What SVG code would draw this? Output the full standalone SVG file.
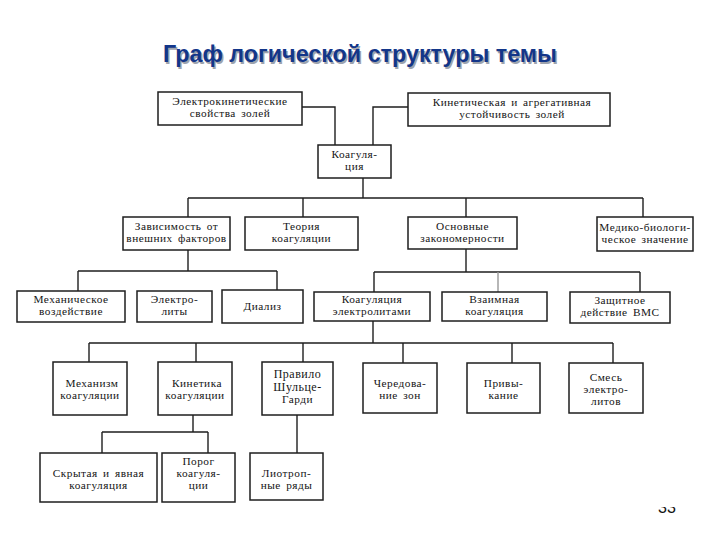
<svg xmlns="http://www.w3.org/2000/svg" width="720" height="540" viewBox="0 0 720 540">
<defs>
<style>
.b{fill:#fff;stroke:#1e1e1e;stroke-width:1.5}
.t{font-family:"Liberation Serif","DejaVu Serif",serif;font-size:11.3px;fill:#151515;text-anchor:middle;letter-spacing:0.5px;word-spacing:2px}
.c{fill:none;stroke:#1e1e1e;stroke-width:1.4}
.ttl{font-family:"Liberation Sans",Arial,sans-serif;font-weight:bold;font-size:23px;text-anchor:middle}
</style>
<clipPath id="pg"><rect x="640" y="507" width="60" height="20"/></clipPath>
</defs>
<rect width="720" height="540" fill="#fff"/>
<g id="title">
<text class="ttl" x="361.5" y="63.5" fill="#9ea3ad" textLength="394" lengthAdjust="spacingAndGlyphs">Граф логической структуры темы</text>
<text class="ttl" x="360" y="62" fill="#133689" textLength="394" lengthAdjust="spacingAndGlyphs">Граф логической структуры темы</text>
</g>
<g id="connectors">
<polyline class="c" points="302,107 335,107 335,145"/>
<polyline class="c" points="408,107 373,107 373,145"/>
<line class="c" x1="363" y1="178" x2="363" y2="198"/>
<line class="c" x1="188" y1="198" x2="643" y2="198"/>
<line class="c" x1="188" y1="198" x2="188" y2="217"/>
<line class="c" x1="303" y1="198" x2="303" y2="217"/>
<line class="c" x1="466" y1="198" x2="466" y2="217"/>
<line class="c" x1="643" y1="198" x2="643" y2="217"/>
<line class="c" x1="188" y1="250" x2="188" y2="271"/>
<line class="c" x1="78" y1="271" x2="277" y2="271"/>
<line class="c" x1="78" y1="271" x2="78" y2="291"/>
<line class="c" x1="277" y1="271" x2="277" y2="290"/>
<line class="c" x1="466" y1="249" x2="466" y2="272"/>
<line class="c" x1="374" y1="272" x2="640" y2="272"/>
<line class="c" x1="374" y1="272" x2="374" y2="292"/>
<line class="c" x1="498" y1="272" x2="498" y2="292" style="stroke:#999"/>
<line class="c" x1="640" y1="272" x2="640" y2="292"/>
<line class="c" x1="373" y1="321" x2="373" y2="343"/>
<line class="c" x1="89" y1="343" x2="613" y2="343"/>
<line class="c" x1="89" y1="343" x2="89" y2="362"/>
<line class="c" x1="196" y1="343" x2="196" y2="362"/>
<line class="c" x1="303" y1="343" x2="303" y2="362"/>
<line class="c" x1="403" y1="343" x2="403" y2="363"/>
<line class="c" x1="512" y1="343" x2="512" y2="363"/>
<line class="c" x1="613" y1="343" x2="613" y2="363"/>
<line class="c" x1="193" y1="415" x2="193" y2="432"/>
<line class="c" x1="102" y1="432" x2="208" y2="432"/>
<line class="c" x1="102" y1="432" x2="102" y2="453"/>
<line class="c" x1="208" y1="432" x2="208" y2="453"/>
<line class="c" x1="297" y1="415" x2="297" y2="453"/>
</g>
<g id="n1"><rect class="b" x="158" y="92" width="144" height="33"/><text class="t" x="230" y="105">Электрокинетические</text><text class="t" x="230" y="117">свойства золей</text></g>
<g id="n2"><rect class="b" x="408" y="93" width="202" height="33"/><text class="t" x="512" y="106">Кинетическая  и агрегативная</text><text class="t" x="512" y="118">устойчивость золей</text></g>
<g id="n3"><rect class="b" x="318" y="145" width="73" height="33"/><text class="t" x="354.5" y="158">Коагуля-</text><text class="t" x="354.5" y="170">ция</text></g>
<g id="n4"><rect class="b" x="123" y="217" width="107" height="33"/><text class="t" x="176.5" y="230">Зависимость от</text><text class="t" x="176.5" y="242">внешних факторов</text></g>
<g id="n5"><rect class="b" x="245" y="217" width="113" height="33"/><text class="t" x="301.5" y="230">Теория</text><text class="t" x="301.5" y="242">коагуляции</text></g>
<g id="n6"><rect class="b" x="408" y="217" width="109" height="32"/><text class="t" x="462.5" y="230">Основные</text><text class="t" x="462.5" y="242">закономерности</text></g>
<g id="n7"><rect class="b" x="597" y="217" width="96" height="34"/><text class="t" x="645" y="231">Медико-биологи-</text><text class="t" x="645" y="243">ческое значение</text></g>
<g id="n8"><rect class="b" x="17" y="291" width="108" height="31"/><text class="t" x="71" y="303">Механическое</text><text class="t" x="71" y="315">воздействие</text></g>
<g id="n9"><rect class="b" x="137" y="291" width="75" height="31"/><text class="t" x="174.5" y="303">Электро-</text><text class="t" x="174.5" y="315">литы</text></g>
<g id="n10"><rect class="b" x="222" y="290" width="81" height="33"/><text class="t" x="262.5" y="310">Диализ</text></g>
<g id="n11"><rect class="b" x="314" y="292" width="116" height="29"/><text class="t" x="372" y="303">Коагуляция</text><text class="t" x="372" y="315">электролитами</text></g>
<g id="n12"><rect class="b" x="442" y="292" width="105" height="29"/><text class="t" x="494.5" y="303">Взаимная</text><text class="t" x="494.5" y="315">коагуляция</text></g>
<g id="n13"><rect class="b" x="570" y="292" width="100" height="31"/><text class="t" x="620" y="304">Защитное</text><text class="t" x="620" y="316">действие ВМС</text></g>
<g id="n14"><rect class="b" x="53" y="362" width="74" height="53"/><text class="t" x="92" y="387">Механизм</text><text class="t" x="90" y="399">коагуляции</text></g>
<g id="n15"><rect class="b" x="158" y="362" width="74" height="53"/><text class="t" x="197" y="387">Кинетика</text><text class="t" x="195" y="399">коагуляции</text></g>
<g id="n16"><rect class="b" x="262" y="362" width="71" height="53"/><text class="t" x="297.5" y="378" style="font-size:12px">Правило</text><text class="t" x="297.5" y="391" style="font-size:12px">Шульце-</text><text class="t" x="297.5" y="403">Гарди</text></g>
<g id="n17"><rect class="b" x="363" y="363" width="74" height="50"/><text class="t" x="400" y="387">Чередова-</text><text class="t" x="400" y="399">ние зон</text></g>
<g id="n18"><rect class="b" x="467" y="363" width="73" height="50"/><text class="t" x="503.5" y="387">Привы-</text><text class="t" x="503.5" y="399">кание</text></g>
<g id="n19"><rect class="b" x="569" y="363" width="74" height="50"/><text class="t" x="606" y="381">Смесь</text><text class="t" x="606" y="393">электро-</text><text class="t" x="606" y="405">литов</text></g>
<g id="n20"><rect class="b" x="40" y="453" width="117" height="49"/><text class="t" x="98.5" y="477">Скрытая  и явная</text><text class="t" x="98.5" y="489">коагуляция</text></g>
<g id="n21"><rect class="b" x="162" y="453" width="73" height="49"/><text class="t" x="198.5" y="465">Порог</text><text class="t" x="198.5" y="477">коагуля-</text><text class="t" x="198.5" y="489">ции</text></g>
<g id="n22"><rect class="b" x="250" y="453" width="73" height="47"/><text class="t" x="286.5" y="477">Лиотроп-</text><text class="t" x="286.5" y="489">ные ряды</text></g>
<g id="page"><text x="667" y="513" clip-path="url(#pg)" style="font-family:'Liberation Sans',Arial,sans-serif;font-size:16px;fill:#111;text-anchor:middle">33</text></g>
</svg>
